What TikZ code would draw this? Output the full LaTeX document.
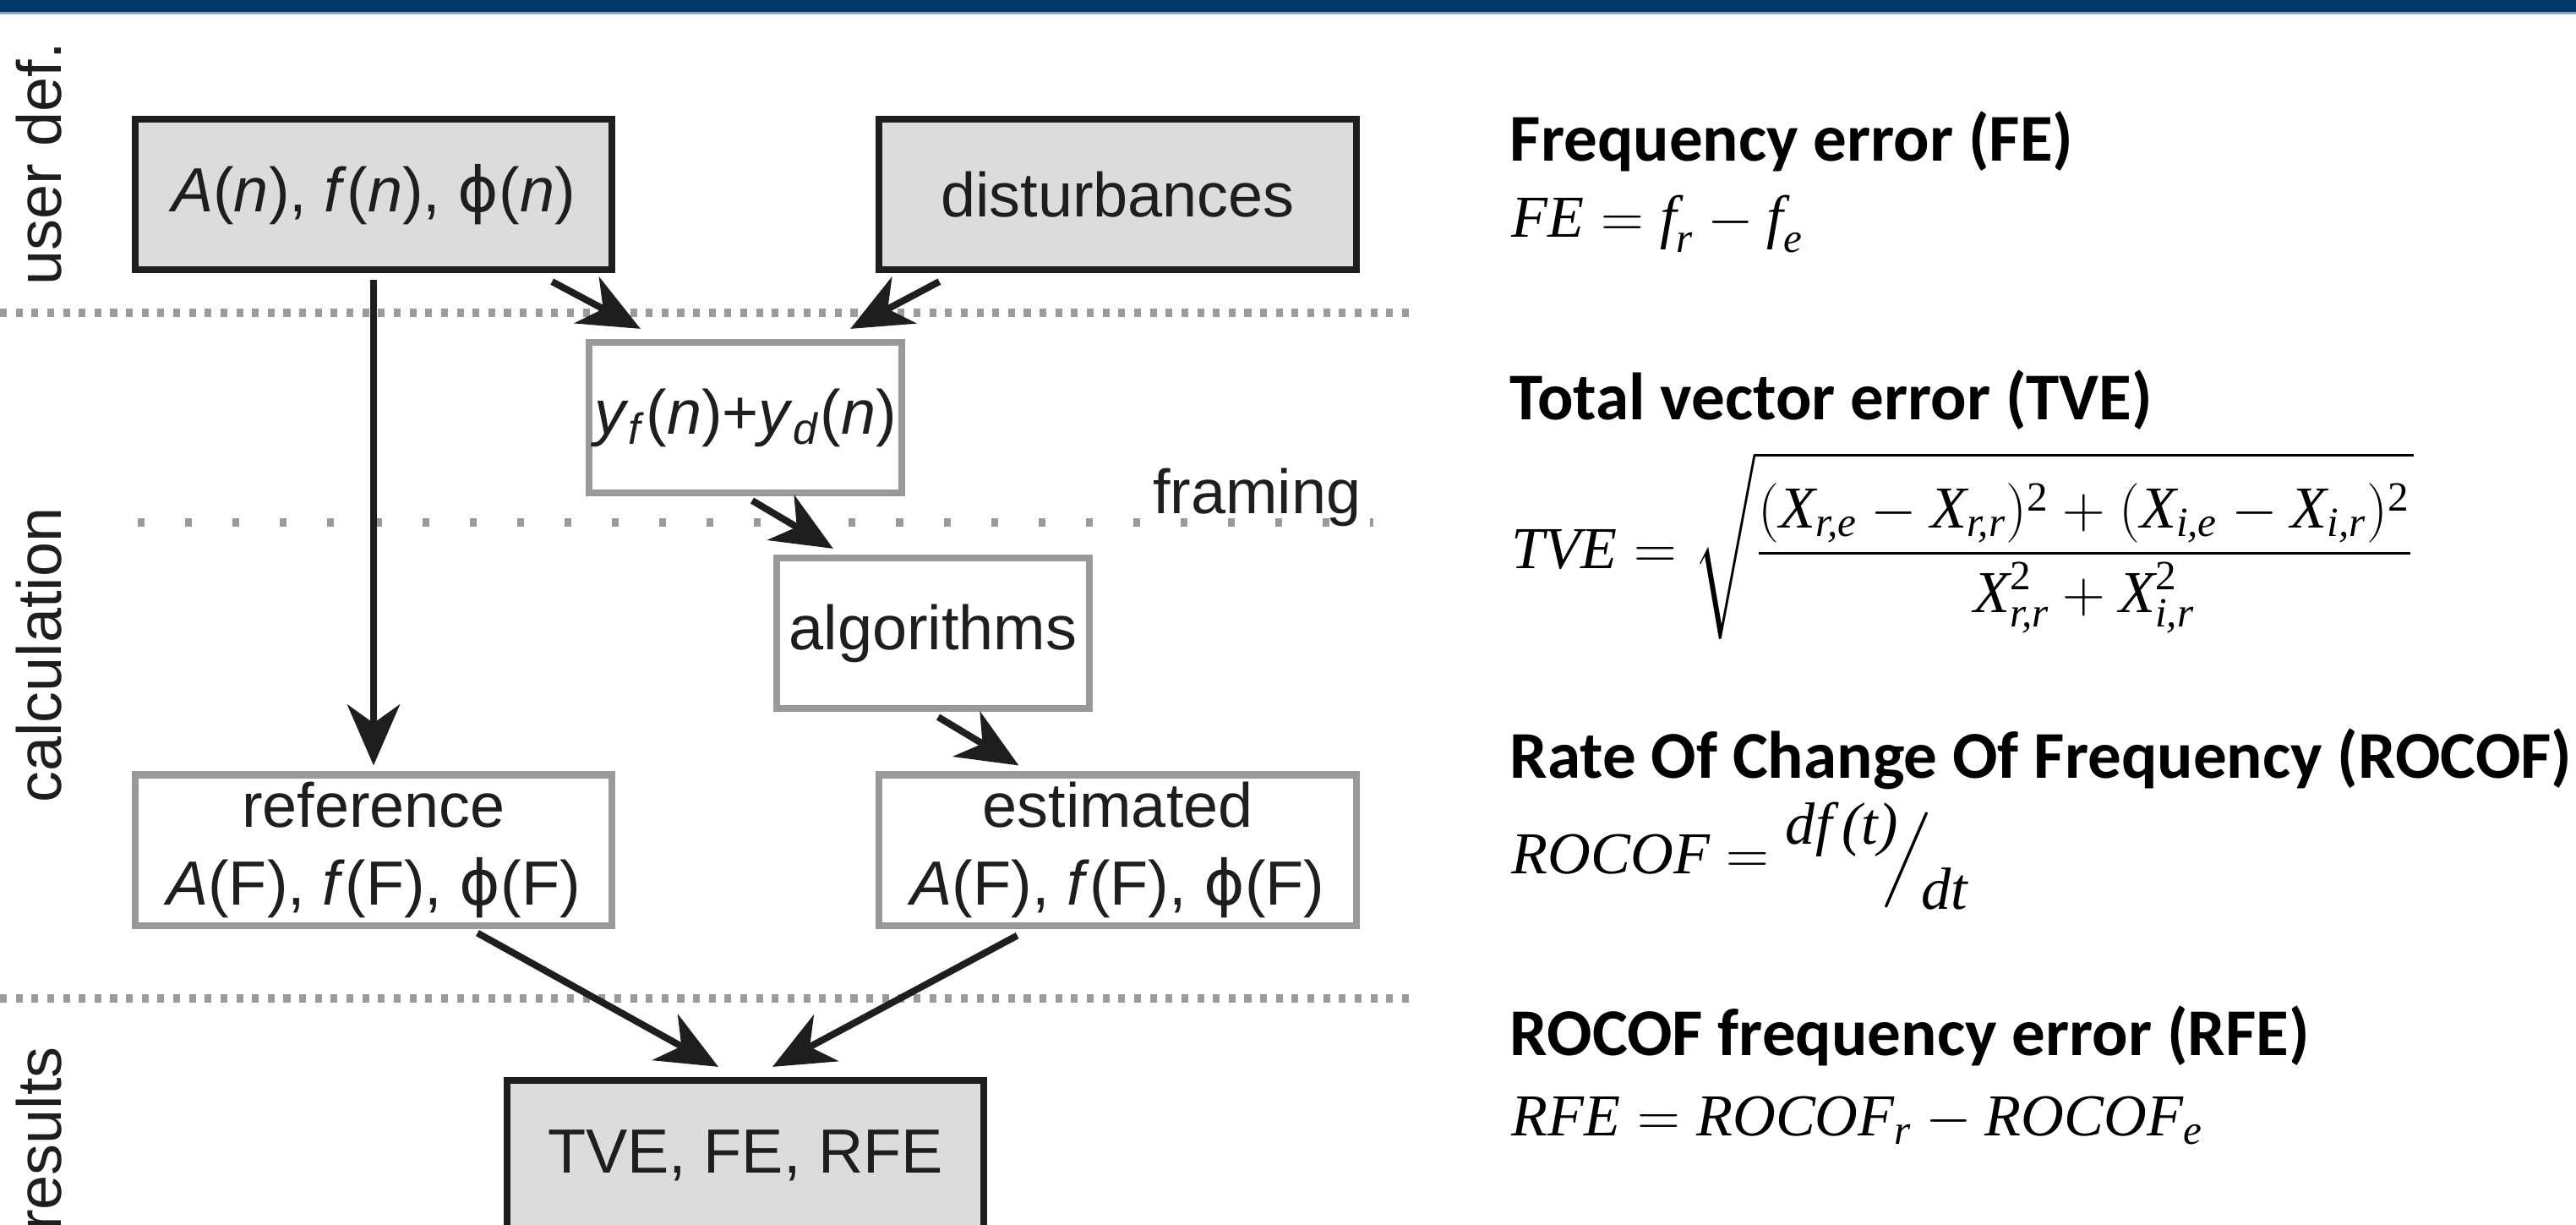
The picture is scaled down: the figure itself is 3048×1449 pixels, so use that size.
\RequirePackage{fix-cm}
\documentclass[tikz,border=0pt]{standalone}
\usepackage{amsmath}
\usepackage{graphicx}
\usepackage[no-math]{fontspec}
\setmainfont{Liberation Sans}
\newfontfamily\headfont{Carlito}
\newfontfamily\mathserif{Liberation Serif}
\newfontfamily\phifont{DejaVu Sans}
\newcommand{\mv}[1]{\text{\mathserif\itshape #1}}
\newcommand{\mn}[1]{\text{\mathserif #1}}
\newcommand{\ph}{{\phifont ϕ}}
\usepackage{tikz}
\usetikzlibrary{arrows.meta,positioning}
\definecolor{navy}{HTML}{02386B}
\definecolor{navyrule}{HTML}{8DA4BF}
\definecolor{ink}{HTML}{1E1E1E}
\definecolor{boxfill}{HTML}{DCDCDC}
\definecolor{boxgrey}{HTML}{999999}
\definecolor{dotgrey}{HTML}{9B9B9B}
\tikzset{
  stage/.style={draw=ink, fill=boxfill, line width=2.3pt, minimum width=5.64cm,
                minimum height=1.78cm, inner sep=0pt, align=center, text=ink,
                font=\fontsize{21}{26}\selectfont},
  calcbox/.style={stage, draw=boxgrey, fill=white},
  narrow/.style={minimum width=3.70cm},
  flow/.style={-{Stealth[length=7.2mm, width=6.2mm, inset=2.2mm]}, line width=2.3pt, ink},
  sepline/.style={dotgrey, line width=2.6pt, dash pattern=on 2.3pt off 3pt},
  sparse/.style={dotgrey, line width=2.85pt, dash pattern=on 2.3pt off 13.65pt},
  phase/.style={rotate=90, inner sep=0pt, text=ink, font=\fontsize{21}{26}\selectfont},
  heading/.style={anchor=base west, inner sep=0pt, text=black,
                  font=\headfont\bfseries\fontsize{22.5}{27}\selectfont},
  formula/.style={anchor=base west, inner sep=0pt, text=black, font=\fontsize{20}{24}\selectfont},
}

\begin{document}
\begin{tikzpicture}[x=0.01cm, y=-0.01cm]
  \useasboundingbox (0,0) rectangle (3048,1449);
  \clip (0,0) rectangle (3048,1449);
  % title bar
  \fill[navy] (0,0) rectangle (3048,15);
  \draw[navyrule, line width=0.6pt] (0,15.5) -- (3048,15.5);

  % stage separators
  \draw[sepline] (0,370) -- (1668,370);
  \draw[sparse] (163,618) -- (1625,618);
  \draw[sepline] (0,1181) -- (1668,1181);

  % stage labels
  \node[phase] (ludef) at (46,194) {user def.};
  \node[phase] (lcalc) at (46,775) {calculation};
  \node[phase] (lres) at (46,1347) {results};
  \node[anchor=base east, inner sep=0pt, text=ink, font=\fontsize{21}{26}\selectfont] (lfram)
    at (1611,607) {framing};

  % boxes
  \node[stage] (inp) at (442,230) {\textit{A}(\textit{n}), \textit{f}(\textit{n}), \ph(\textit{n})};
  \node[stage, right=3.08cm of inp] (dist) {disturbances};
  \node[calcbox, narrow] (sum) at (882,494)
    {\textit{y}\textsubscript{\textit{f}}(\textit{n})+\textit{y}\textsubscript{\textit{d}}(\textit{n})};
  \node[calcbox, narrow] (alg) at (1104,749) {algorithms};
  \node[calcbox, below=5.89cm of inp] (ref) {reference\\\textit{A}(F), \textit{f}(F), \ph(F)};
  \node[calcbox, below=5.89cm of dist] (est) {estimated\\\textit{A}(F), \textit{f}(F), \ph(F)};
  \node[stage] (res) at (882,1367) {TVE, FE, RFE};

  % connectors
  \draw[flow] ([shift={(-75,10)}]inp.south east) -- ([shift={(65,-12)}]sum.north west);
  \draw[flow] ([shift={(75,10)}]dist.south west) -- ([shift={(-65,-12)}]sum.north east);
  \draw[flow] ([shift={(0,8)}]inp.south) -- ([shift={(0,-7)}]ref.north);
  \draw[flow] ([shift={(8,5)}]sum.south) -- ([shift={(71,-7)}]alg.north west);
  \draw[flow] ([shift={(6,6)}]alg.south) -- ([shift={(169,-7)}]est.north west);
  \draw[flow] ([shift={(123,5)}]ref.south) -- ([shift={(-32,-12)}]res.north);
  \draw[flow] ([shift={(-119,8)}]est.south) -- ([shift={(32,-12)}]res.north);

  % error definitions
  \node[heading] (hfe) at (1786,191) {Frequency error (FE)};
  \node[formula] (mfe) at (1788,281) {$\mv{FE}=\mv{f}_{\mv{r}}-\mv{f}_{\mv{e}}$};
  \node[heading] (htve) at (1786,497) {Total vector error (TVE)};
  \node[formula] (mtve) at (1788,672)
    {$\displaystyle \mv{TVE}=\sqrt{\frac{\rule{0pt}{0.95em}(\mv{X}_{\mv{r,e}}-\mv{X}_{\mv{r,r}})^{\mn{2}}
      +(\mv{X}_{\mv{i,e}}-\mv{X}_{\mv{i,r}})^{\mn{2}}}{\mv{X}_{\mv{r,r}}^{\mn{2}}+\mv{X}_{\mv{i,r}}^{\mn{2}}}}$};
  \node[heading] (hroc) at (1786,920) {Rate Of Change Of Frequency (ROCOF)};
  \node[formula] (mroc) at (1788,1033)
    {$\mv{ROCOF}=\raisebox{0.49em}{\mv{df\,(t)}}\mkern-5mu\scalebox{1}[0.86]{$\Big/$}\mkern-3mu\raisebox{-0.6em}{\mv{dt}}$};
  \node[heading] (hrfe) at (1786,1248) {ROCOF frequency error (RFE)};
  \node[formula] (mrfe) at (1788,1343) {$\mv{RFE}=\mv{ROCOF}_{\mv{r}}-\mv{ROCOF}_{\mv{e}}$};
\end{tikzpicture}
\end{document}
